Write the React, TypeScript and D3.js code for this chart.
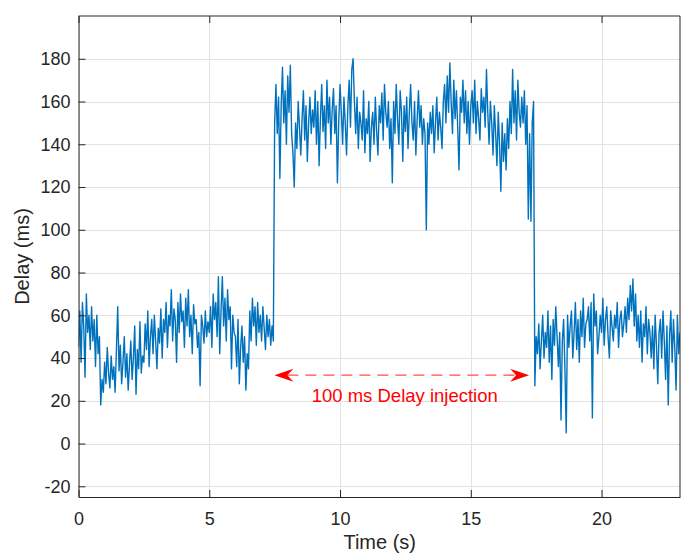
import React, { useRef, useEffect } from "react";
import * as d3 from "d3";

// delay samples (ms), one every 50 ms
const sampleStep = 0.05;

const baselineStart = 0;
const baselineDelay = [
  45, 62, 38, 66, 55, 31, 70, 52, 60, 44,
  64, 48, 58, 36, 60, 42, 50, 18, 30, 24,
  38, 28, 45, 33, 26, 41, 30, 36, 24, 44,
  64, 34, 46, 28, 38, 50, 31, 42, 25, 37,
  48, 30, 40, 55, 23, 44, 35, 57, 33, 41,
  38, 56, 44, 62, 36, 50, 58, 42, 60, 48,
  35, 54, 47, 63, 40, 58, 52, 66, 45, 60,
  55, 72, 48, 63, 58, 38, 66, 52, 70, 57,
  62, 45, 68, 55, 72, 50, 60, 42, 65, 56,
  58, 45, 52, 27, 60, 55, 47, 62, 50, 57,
  52, 64, 45, 70, 58, 66, 50, 78, 42, 62,
  78, 55, 68, 48, 72, 58, 64, 35, 60, 52,
  50, 36, 58, 28, 45, 55, 38, 50, 25, 42,
  35, 62, 48, 68, 55, 64, 46, 66, 52, 60,
  48, 64, 54, 44, 60, 50, 58, 46, 55, 48,
];

const injectionStart = 7.5;
const injectedDelay = [
  150, 168, 145, 162, 124, 158, 176, 150, 165, 140,
  172, 155, 177, 145, 136, 120, 150, 138, 160, 148,
  135, 152, 165, 142, 158, 132, 150, 162, 145, 156,
  148, 165, 140, 160, 130, 152, 168, 146, 158, 138,
  170, 150, 162, 140, 156, 166, 145, 158, 122, 150,
  168, 155, 140, 162, 150, 135, 158, 170, 148, 175,
  180, 160, 145, 162, 138, 155, 150, 142, 165, 136,
  152, 145, 160, 132, 148, 155, 140, 162, 146, 135,
  158, 150, 164, 142, 168, 155, 148, 160, 138, 152,
  122, 160, 145, 168, 152, 140, 165, 155, 132, 158,
  146, 162, 138, 155, 168, 150, 142, 160, 135, 152,
  165, 148, 158, 140, 152, 145, 100, 150, 140, 155,
  145, 158, 136, 150, 162, 142, 155, 148, 138, 160,
  168, 150, 172, 155, 178, 160, 145, 170, 152, 165,
  148, 128, 162, 155, 170, 150, 165, 145, 160, 140,
  158, 165, 150, 170, 145, 160, 152, 142, 166, 155,
  162, 148, 175, 155, 140, 160, 150, 135, 158, 145,
  130, 155, 140, 118, 150, 132, 145, 128, 152, 138,
  160, 145, 175, 150, 165, 142, 170, 155, 148, 162,
  150, 165, 140, 158, 105, 145, 104, 150, 160,
];

const recoveryStart = 17.45;
const recoveryDelay = [
  27, 50, 42, 56, 35, 48, 60, 40, 52, 45,
  62, 38, 55, 30, 58, 46, 64, 50, 36, 52,
  11, 48, 58, 35, 5, 60, 45, 55, 62, 40,
  52, 66, 44, 58, 38, 62, 50, 68, 45, 56,
  58, 64, 48, 66, 12, 70, 55, 62, 42, 50,
  60, 52, 68, 46, 58, 64, 50, 40, 62, 55,
  48, 60, 54, 66, 45, 58, 62, 50, 56, 64,
  52, 68, 58, 74, 62, 77, 55, 70, 48, 60,
  45, 62, 38, 56, 50, 64, 42, 58, 52, 40,
  55, 35, 60, 46, 28, 52, 58, 40, 62, 48,
  30, 55, 18, 50, 62, 38, 58, 45, 25, 60,
  42, 52,
];

const xTicks = [0, 5, 10, 15, 20];
const yTicks = [-20, 0, 20, 40, 60, 80, 100, 120, 140, 160, 180];
const xDomain = [0, 23];
const yDomain = [-25, 200];

// annotation: double arrow over the injection window
const injectionSpan = [7.49, 17.23];
const injectionLevel = 32;
const injectionLabel = "100 ms Delay injection";

const FONT = "'Liberation Sans', Arial, Helvetica, sans-serif";
const INK = "#262626";

export default function App() {
  const ref = useRef<SVGSVGElement>(null);

  useEffect(() => {
    const width = 681;
    const height = 554;
    const left = 78.5, right = 680, top = 16, bottom = 497;

    const svg = d3.select(ref.current);
    svg.selectAll("*").remove();
    svg.attr("width", width).attr("height", height);

    const x = d3.scaleLinear().domain(xDomain).range([left, right]);
    const y = d3.scaleLinear().domain(yDomain).range([bottom, top]);

    const points: { t: number; v: number }[] = [];
    const addPhase = (start: number, vals: number[]) =>
      vals.forEach((v, i) => points.push({ t: start + i * sampleStep, v }));
    addPhase(baselineStart, baselineDelay);
    addPhase(injectionStart, injectedDelay);
    addPhase(recoveryStart, recoveryDelay);

    svg.append("rect").attr("width", width).attr("height", height).attr("fill", "#fff");

    // grid
    const grid = svg.append("g").attr("stroke", "#e2e2e2").attr("stroke-width", 1);
    xTicks.forEach(t => {
      const px = Math.round(x(t)) + 0.5;
      grid.append("line").attr("x1", px).attr("x2", px).attr("y1", top).attr("y2", bottom);
    });
    yTicks.forEach(v => {
      const py = Math.round(y(v)) + 0.5;
      grid.append("line").attr("x1", left).attr("x2", right).attr("y1", py).attr("y2", py);
    });

    // data line
    svg.append("clipPath").attr("id", "plot-clip")
      .append("rect").attr("x", left).attr("y", top).attr("width", right - left).attr("height", bottom - top);

    const line = d3.line<{ t: number; v: number }>()
      .x(d => x(d.t))
      .y(d => y(d.v));
    svg.append("path")
      .datum(points)
      .attr("clip-path", "url(#plot-clip)")
      .attr("fill", "none")
      .attr("stroke", "#0072BD")
      .attr("stroke-width", 1.4)
      .attr("stroke-linejoin", "round")
      .attr("d", line);

    // axes (plain hyphen for negatives, like the original)
    const fmt = (d: d3.NumberValue) => String(d);
    const yAxis = d3.axisLeft(y).tickValues(yTicks).tickFormat(fmt).tickSizeInner(-7).tickSizeOuter(0).tickPadding(8);
    const gy = svg.append("g").attr("transform", `translate(${left},0)`).call(yAxis);
    const xAxis = d3.axisBottom(x).tickValues(xTicks).tickFormat(fmt).tickSizeInner(-7).tickSizeOuter(0).tickPadding(15);
    const gx = svg.append("g").attr("transform", `translate(0,${bottom})`).call(xAxis);
    [gx, gy].forEach(g => {
      g.select(".domain").attr("stroke", INK);
      g.selectAll(".tick line").attr("stroke", INK);
      g.selectAll("text")
        .attr("fill", INK)
        .style("font-family", FONT)
        .style("font-size", "18px");
    });

    // box (top/right) with inward ticks
    const box = svg.append("g").attr("stroke", INK).attr("stroke-width", 1);
    box.append("line").attr("x1", left).attr("x2", right).attr("y1", top).attr("y2", top);
    box.append("line").attr("x1", right).attr("x2", right).attr("y1", top).attr("y2", bottom);
    xTicks.forEach(t => {
      const px = x(t) + 0.5;
      box.append("line").attr("x1", px).attr("x2", px).attr("y1", top).attr("y2", top + 7);
    });

    // axis labels
    svg.append("text")
      .attr("x", (left + right) / 2 + 0.5)
      .attr("y", 549)
      .attr("text-anchor", "middle")
      .attr("fill", INK)
      .style("font-family", FONT)
      .style("font-size", "20px")
      .text("Time (s)");
    svg.append("text")
      .attr("transform", `translate(29,${(top + bottom) / 2}) rotate(-90)`)
      .attr("text-anchor", "middle")
      .attr("fill", INK)
      .style("font-family", FONT)
      .style("font-size", "20px")
      .text("Delay (ms)");

    // injection annotation
    const ax0 = x(injectionSpan[0]);
    const ax1 = x(injectionSpan[1]);
    const ay = y(injectionLevel);
    const headLen = 19, headHalf = 6.5, notch = 6;
    svg.append("line")
      .attr("x1", ax0 + headLen - notch).attr("x2", ax1 - headLen + notch)
      .attr("y1", ay).attr("y2", ay)
      .attr("stroke", "#ff4d4d")
      .attr("stroke-width", 1.3)
      .attr("stroke-dasharray", "11,7");
    const head = (tip: number, dir: number) =>
      [[tip, ay], [tip + dir * headLen, ay - headHalf], [tip + dir * (headLen - notch), ay], [tip + dir * headLen, ay + headHalf]]
        .map(p => p.join(",")).join(" ");
    svg.append("polygon").attr("points", head(ax0, 1)).attr("fill", "#ff0000");
    svg.append("polygon").attr("points", head(ax1, -1)).attr("fill", "#ff0000");
    svg.append("text")
      .attr("x", (ax0 + ax1) / 2 + 3)
      .attr("y", 401.5)
      .attr("text-anchor", "middle")
      .attr("fill", "#ff0000")
      .style("font-family", FONT)
      .style("font-size", "18.5px")
      .text(injectionLabel);
  }, []);

  return (
    <svg
      ref={ref}
      width={681}
      height={554}
      style={{ position: "absolute", left: 0, top: 0, display: "block" }}
    />
  );
}
